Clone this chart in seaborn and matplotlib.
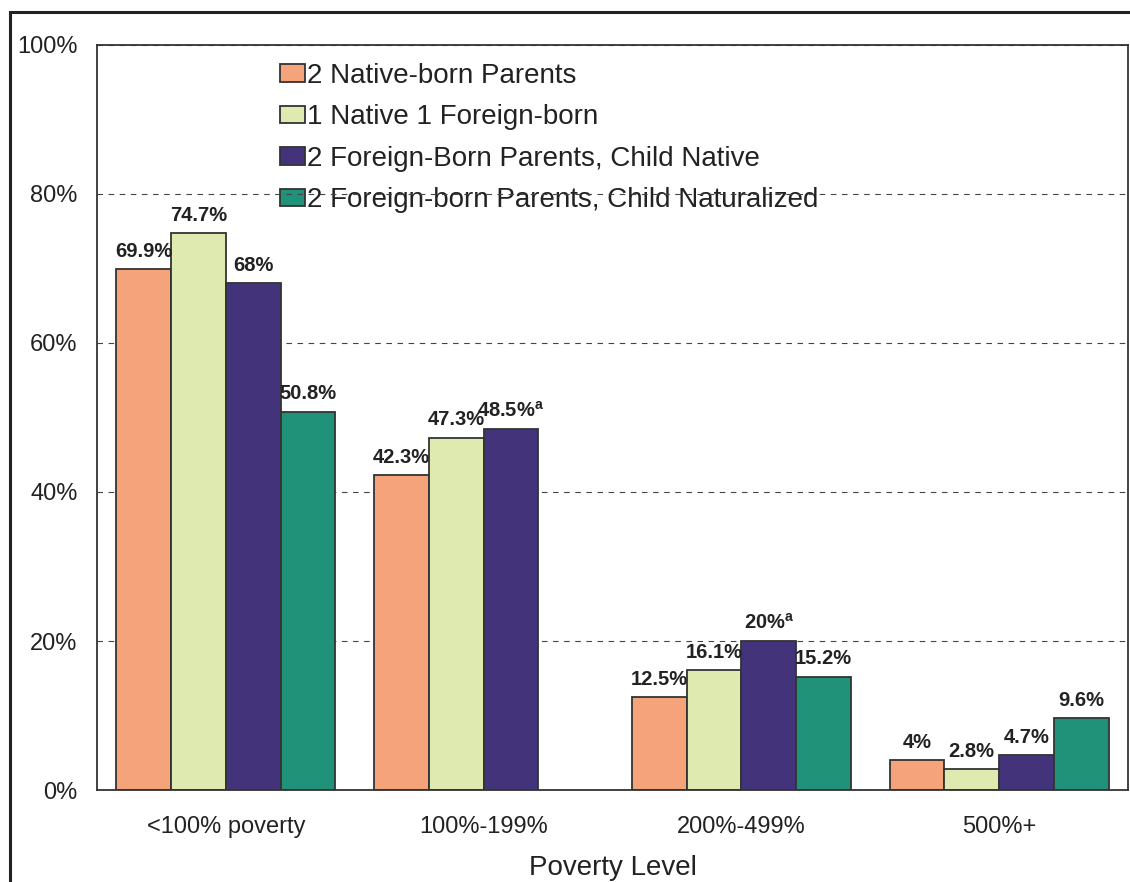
import numpy as np
import pandas as pd
import seaborn as sns
import matplotlib.pyplot as plt
from matplotlib.patches import Rectangle

levels = ['<100% poverty', '100%-199%', '200%-499%', '500%+']
groups = ['2 Native-born Parents', '1 Native 1 Foreign-born',
          '2 Foreign-Born Parents, Child Native',
          '2 Foreign-born Parents, Child Naturalized']
native2 = [69.9, 42.3, 12.5, 4.0]
mixed = [74.7, 47.3, 16.1, 2.8]
foreign_native = [68.0, 48.5, 20.0, 4.7]
foreign_natur = [50.8, np.nan, 15.2, 9.6]
labels = [['69.9%', '42.3%', '12.5%', '4%'],
          ['74.7%', '47.3%', '16.1%', '2.8%'],
          ['68%', '48.5%$^{\\mathregular{a}}$', '20%$^{\\mathregular{a}}$', '4.7%'],
          ['50.8%', '', '15.2%', '9.6%']]
colors = ['#F5A37A', '#DFEAB0', '#43337A', '#20927A']

rows = []
for g, vals in zip(groups, [native2, mixed, foreign_native, foreign_natur]):
    for lv, v in zip(levels, vals):
        rows.append({'level': lv, 'group': g, 'pct': v})
df = pd.DataFrame(rows)

sns.set_style('white')
plt.rcParams['font.family'] = ['Liberation Sans', 'DejaVu Sans']

fig = plt.figure(figsize=(11.3, 8.82), dpi=100)
ax = fig.add_axes([0.0858, 0.1043, 0.9124, 0.8447])
sns.barplot(data=df, x='level', y='pct', hue='group', order=levels,
            hue_order=groups, palette=colors, width=0.85, edgecolor='#333333',
            linewidth=1.3, saturation=1, ax=ax, zorder=2)

ax.set_ylim(0, 100)
ax.set_xlim(-0.5, 3.5)
ax.set_yticks(range(0, 101, 20))
ax.set_yticklabels([f'{t}%' for t in range(0, 101, 20)])
ax.yaxis.grid(True, linestyle=(0, (5, 5)), color='#444444', linewidth=0.8)
ax.set_axisbelow(True)
ax.tick_params(axis='y', length=0, pad=14, labelsize=17, labelcolor='#222222')
ax.tick_params(axis='x', length=0, pad=19, labelsize=17, labelcolor='#222222')
ax.set_xlabel('Poverty Level', fontsize=20, labelpad=12, color='#222222')
ax.set_ylabel('')
for s in ax.spines.values():
    s.set_visible(True)
    s.set_color('#333333')
    s.set_linewidth(1.3)

# match each bar to its category by position (the NaN bar is dropped)
for cont, labs in zip(ax.containers, labels):
    for bar in cont:
        h = bar.get_height()
        if np.isnan(h):
            continue
        idx = int(round(bar.get_x() + bar.get_width() / 2))
        lab = labs[idx]
        if not lab:
            continue
        ax.annotate(lab, (bar.get_x() + bar.get_width() / 2, h),
                    xytext=(0, 6), textcoords='offset points',
                    ha='center', va='bottom', fontsize=14.5, fontweight='bold',
                    color='#222222')

leg = ax.legend(loc='upper left', bbox_to_anchor=(0.164, 0.995), frameon=False,
                fontsize=20, handlelength=0.9, handleheight=0.6,
                handletextpad=0.08, labelspacing=0.56, borderpad=0)
for t in leg.get_texts():
    t.set_color('#222222')
leg.set_zorder(0.2)

fig.add_artist(Rectangle((10 / 1130, -0.1), 1.2, 1.1 - 12 / 882,
                         transform=fig.transFigure, fill=False,
                         edgecolor='#222222', linewidth=2.2, clip_on=False))

fig.savefig('out.png', dpi=100)
